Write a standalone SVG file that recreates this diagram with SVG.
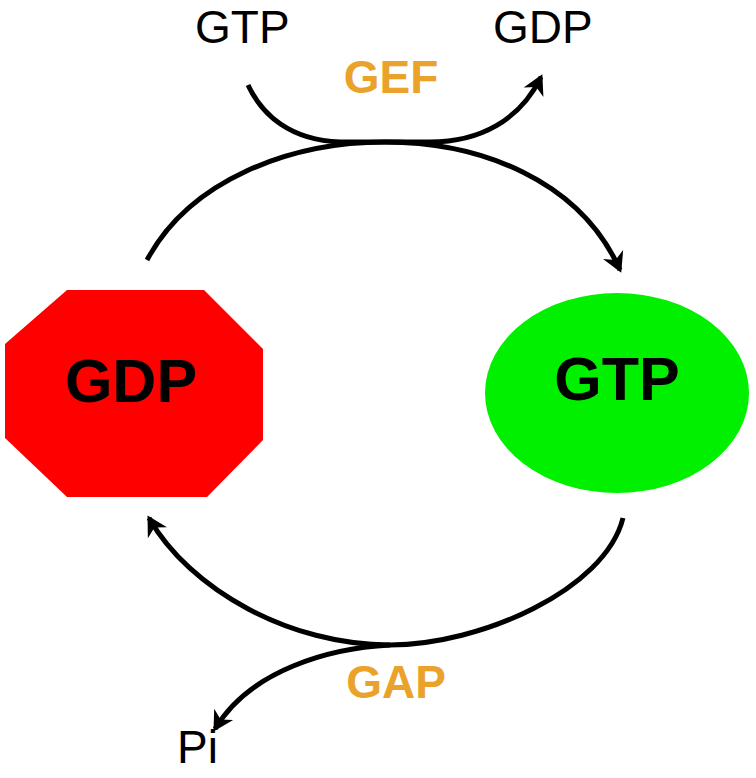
<svg xmlns="http://www.w3.org/2000/svg" width="756" height="778" viewBox="0 0 756 778">
  <style>
    .conn { fill: none; stroke: #000; stroke-width: 5; stroke-linecap: butt; }
    .big { font-family: "Liberation Sans", Arial, sans-serif; font-weight: bold; font-size: 61px; fill: #000; text-anchor: middle; }
    .enz { font-family: "Liberation Sans", Arial, sans-serif; font-weight: bold; font-size: 46px; fill: #eaa22a; text-anchor: middle; }
    .lbl { font-family: "Liberation Sans", Arial, sans-serif; font-size: 46px; fill: #000; }
  </style>
  <defs>
    <marker id="arrow" markerUnits="userSpaceOnUse" markerWidth="30" markerHeight="30" viewBox="-20 -15 30 30" refX="0" refY="0" orient="auto">
      <path d="M3,0 L-17,-11 L-11,0 L-17,11 Z" fill="#000"/>
    </marker>
  </defs>
  <rect width="756" height="778" fill="#fff"/>

  <g id="node-gdp">
    <polygon points="67,290 204,290 263,349 263,440 207,497 67,497 5,438 5,344" fill="#ff0000"/>
    <text class="big" x="131" y="402">GDP</text>
  </g>

  <g id="node-gtp">
    <ellipse cx="617" cy="393" rx="132" ry="100" fill="#00f000"/>
    <text class="big" x="617" y="400">GTP</text>
  </g>

  <g id="connectors">
    <path class="conn" d="M147,260 C190,180 290,142 385,142 C480,142 580,180 620,270" marker-end="url(#arrow)"/>
    <path class="conn" d="M248,85 C262,115 290,140 340,142 L430,142 C480,142 520,120 541,77" marker-end="url(#arrow)"/>
    <path class="conn" d="M623,518 C605,590 480,645 390,645 C290,645 190,590 149,518" marker-end="url(#arrow)"/>
    <path class="conn" d="M390,645 C330,648 250,670 215,729" marker-end="url(#arrow)"/>
  </g>

  <g id="labels">
    <text class="lbl" x="195" y="43">GTP</text>
    <text class="lbl" x="493" y="43">GDP</text>
    <text class="enz" x="391" y="93">GEF</text>
    <text class="enz" x="396" y="698">GAP</text>
    <text class="lbl" x="177" y="763">Pi</text>
  </g>
</svg>
